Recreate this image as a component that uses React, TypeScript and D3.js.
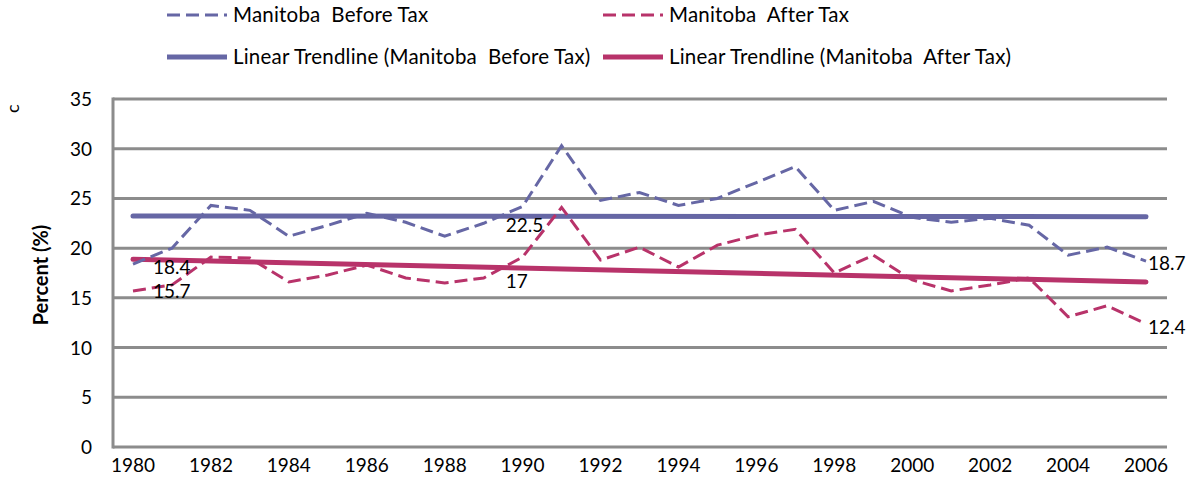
import React from 'react';
import * as d3 from 'd3';

const years = d3.range(1980, 2007);
const beforeTax = [18.4, 20.0, 24.3, 23.8, 21.2, 22.3, 23.5, 22.6, 21.2, 22.5, 24.2, 30.3, 24.8, 25.6, 24.3, 25.0, 26.6, 28.2, 23.8, 24.7, 23.1, 22.6, 23.0, 22.3, 19.3, 20.1, 18.7];
const afterTax = [15.7, 16.3, 19.1, 19.0, 16.6, 17.3, 18.3, 17.0, 16.5, 17.0, 19.1, 24.1, 18.8, 20.1, 18.1, 20.3, 21.3, 21.9, 17.5, 19.3, 16.8, 15.7, 16.3, 17.0, 13.1, 14.2, 12.4];
const yTicks = [0, 5, 10, 15, 20, 25, 30, 35];
const xTicks = d3.range(1980, 2007, 2);

const BLUE = '#6667a5';
const PINK = '#b8336a';
const GRID = '#8c8c8c';
const FONT = 'Lato, "Open Sans", sans-serif';

// least squares fit, like Excel's linear trendline
const fit = (vals: number[]) => {
  const mx = d3.mean(years)!;
  const my = d3.mean(vals)!;
  const num = d3.sum(years, (x, i) => (x - mx) * (vals[i] - my));
  const den = d3.sum(years, x => (x - mx) * (x - mx));
  const b = num / den;
  return (x: number) => my + b * (x - mx);
};

export default function App() {
  const width = 1191;
  const height = 499;
  const left = 113, right = 1167, top = 99, bottom = 447;

  const x = d3.scaleLinear().domain([1980, 2006]).range([133, 1146]);
  const y = d3.scaleLinear().domain([0, 35]).range([bottom, top]);

  const line = d3.line<number>()
    .x((_, i) => x(years[i]))
    .y(d => y(d));

  const trendBefore = fit(beforeTax);
  const trendAfter = fit(afterTax);

  const labels = [
    { vals: beforeTax, i: 0, dx: 20, dy: 10 },
    { vals: afterTax, i: 0, dx: 20, dy: 7 },
    { vals: beforeTax, i: 9, dx: 22, dy: 9 },
    { vals: afterTax, i: 9, dx: 22, dy: 10 },
    { vals: beforeTax, i: 26, dx: 2, dy: 9 },
    { vals: afterTax, i: 26, dx: 2, dy: 10 },
  ];

  const legend = [
    { label: 'Manitoba  Before Tax', color: BLUE, dash: true, lx: 167, ly: 15 },
    { label: 'Manitoba  After Tax', color: PINK, dash: true, lx: 603, ly: 15 },
    { label: 'Linear Trendline (Manitoba  Before Tax)', color: BLUE, dash: false, lx: 167, ly: 57 },
    { label: 'Linear Trendline (Manitoba  After Tax)', color: PINK, dash: false, lx: 603, ly: 57 },
  ];

  return (
    <div style={{ position: 'absolute', left: 0, top: 0 }}>
      <svg width={width} height={height} style={{ display: 'block', background: '#fff' }} fontFamily={FONT}>
        {/* legend */}
        {legend.map(d => (
          <g key={d.label}>
            <line x1={d.lx} x2={d.lx + 60} y1={d.ly} y2={d.ly} stroke={d.color}
              strokeWidth={d.dash ? 3 : 5} strokeDasharray={d.dash ? '13,6' : undefined} />
            <text x={d.lx + 66} y={d.ly + 7} fontSize={20.5} letterSpacing={0.2} fill="#000"
              style={{ whiteSpace: 'pre' }}>{d.label}</text>
          </g>
        ))}

        {/* stray glyph */}
        <text transform="translate(19,113) rotate(-90)" fontSize={18} fill="#000">c</text>

        {/* grid */}
        {yTicks.filter(t => t > 0).map(t => (
          <line key={t} x1={left} x2={right} y1={y(t)} y2={y(t)} stroke={GRID} strokeWidth={3} />
        ))}
        <line x1={left} x2={right} y1={bottom} y2={bottom} stroke={GRID} strokeWidth={3} />
        <line x1={left} x2={left} y1={top - 1.5} y2={bottom + 1.5} stroke={GRID} strokeWidth={3} />

        {/* y ticks */}
        {yTicks.map(t => (
          <text key={t} x={92} y={y(t) + 7} fontSize={19} textAnchor="end" fill="#000">{t}</text>
        ))}
        <text transform={`translate(48,275) rotate(-90)`} fontSize={20} fontWeight="bold"
          textAnchor="middle" fill="#000">Percent (%)</text>

        {/* x ticks */}
        {xTicks.map(t => (
          <text key={t} x={x(t)} y={472} fontSize={19} textAnchor="middle" fill="#000">{t}</text>
        ))}

        {/* trendlines */}
        <line x1={x(1980)} x2={x(2006)} y1={y(trendBefore(1980))} y2={y(trendBefore(2006))}
          stroke={BLUE} strokeWidth={5} strokeLinecap="round" />
        <line x1={x(1980)} x2={x(2006)} y1={y(trendAfter(1980))} y2={y(trendAfter(2006))}
          stroke={PINK} strokeWidth={5} strokeLinecap="round" />

        {/* series */}
        <path d={line(beforeTax) ?? ''} fill="none" stroke={BLUE} strokeWidth={3} strokeDasharray="13,6" />
        <path d={line(afterTax) ?? ''} fill="none" stroke={PINK} strokeWidth={3} strokeDasharray="13,6" />

        {/* data labels */}
        {labels.map((d, k) => (
          <text key={k} x={x(years[d.i]) + d.dx} y={y(d.vals[d.i]) + d.dy} fontSize={19} fill="#000">
            {d.vals[d.i]}
          </text>
        ))}
      </svg>
    </div>
  );
}
